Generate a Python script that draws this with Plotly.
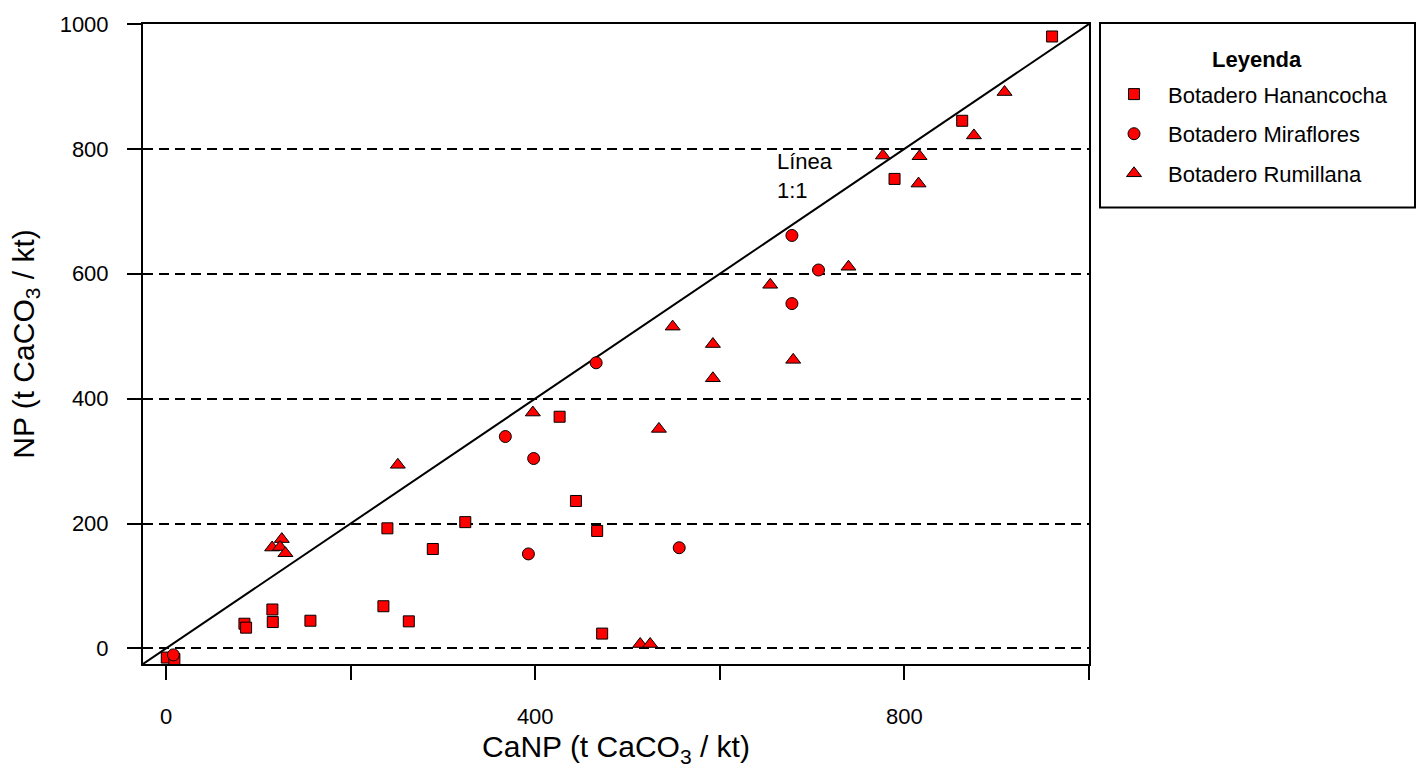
import plotly.graph_objects as go

# ---- data ----
han_x = [960, 862.6, 789.3, 426.4, 444.1, 467.1, 472.5, 239.8, 324.2, 289.0,
         115.2, 115.6, 84.9, 86.7, 156.4, 235.5, 263.0, 0.8, 9.0]
han_y = [980, 845, 751.9, 371, 236.1, 188.1, 23.7, 192.3, 202.2, 159.2,
         62.3, 42.2, 39.5, 33.2, 44.3, 67.5, 43.3, -14.7, -17.0]

mir_x = [678.1, 706.9, 678.1, 466.0, 367.6, 398.3, 392.6, 556.0, 7.9]
mir_y = [661.3, 606.0, 552.2, 457.4, 339.3, 304.1, 151.3, 161.2, -10.4]

rum_x = [908.5, 875.3, 776.7, 816.4, 815.3, 739.4, 654.6, 548.9, 592.5, 679.5,
         592.5, 397.4, 534.0, 513.7, 524.5, 251.1, 125.4, 114.9, 123.5, 129.3]
rum_y = [891, 821.5, 789.3, 788.2, 744.4, 611.2, 582.3, 515.3, 487.4, 462.1,
         432.6, 377.7, 351.5, 7.0, 7.0, 294.0, 175.0, 161.5, 162.3, 152.4]

line_1to1 = [-25, 1000]

x_tickvals = [0, 200, 400, 600, 800, 1000]
x_ticktext = ["0", "", "400", "", "800", ""]
y_tickvals = [0, 200, 400, 600, 800, 1000]
y_ticktext = ["0", "200", "400", "600", "800", "1000"]

FONT = "Liberation Sans, Arial, sans-serif"
RED = "#FF0000"

fig = go.Figure()
fig.add_trace(go.Scatter(x=line_1to1, y=line_1to1, mode="lines",
                         line=dict(color="black", width=2),
                         showlegend=False, hoverinfo="skip"))

mk = dict(color=RED, line=dict(color="black", width=1))
fig.add_trace(go.Scatter(x=han_x, y=han_y, mode="markers", name="Botadero Hanancocha",
                         legendgroup="a",
                         marker=dict(symbol="square", size=11, **mk)))
fig.add_trace(go.Scatter(x=mir_x, y=mir_y, mode="markers", name="Botadero Miraflores",
                         legendgroup="b",
                         marker=dict(symbol="circle", size=12, **mk)))
fig.add_trace(go.Scatter(x=rum_x, y=rum_y, mode="markers", name="Botadero Rumillana",
                         legendgroup="c",
                         marker=dict(symbol="triangle-up", size=13, **mk)))

fig.add_annotation(x=660, y=757, xref="x", yref="y", text="Línea<br>1:1",
                   showarrow=False, xanchor="left", yanchor="middle", align="left",
                   font=dict(family=FONT, size=22, color="black"))

# legend frame and title
L, R, T, B = 143, 1089, 19, 668
W, H = R - L, B - T
fig.add_shape(type="rect", xref="paper", yref="paper",
              x0=(1100 - L) / W, x1=(1415 - L) / W,
              y0=(B - 205) / H, y1=(B - 18) / H,
              line=dict(color="black", width=2), fillcolor="rgba(0,0,0,0)")
fig.add_annotation(x=(1257 - L) / W, y=(B - 55) / H, xref="paper", yref="paper",
                   text="<b>Leyenda</b>", showarrow=False,
                   xanchor="center", yanchor="middle",
                   font=dict(family=FONT, size=22, color="black"))

fig.update_layout(
    width=1421, height=770,
    margin=dict(l=L, r=1421 - R, t=T, b=770 - B),
    paper_bgcolor="white", plot_bgcolor="white",
    font=dict(family=FONT, size=22, color="black"),
    showlegend=True,
    legend=dict(x=(1100 - L) / W, y=(B - 69) / H, xanchor="left", yanchor="top",
                bgcolor="rgba(0,0,0,0)", borderwidth=0,
                font=dict(family=FONT, size=22),
                itemwidth=58, traceorder="grouped", tracegroupgap=8),
)

fig.update_xaxes(range=[-25, 1000], showgrid=False, zeroline=False,
                 showline=True, linecolor="black", linewidth=2, mirror=True,
                 ticks="outside", ticklen=14, tickwidth=2, tickcolor="black",
                 tickvals=x_tickvals, ticktext=x_ticktext,
                 tickfont=dict(family=FONT, size=22), ticklabelstandoff=18,
                 title=dict(text="CaNP (t CaCO<sub>3</sub> / kt)",
                            font=dict(family=FONT, size=30), standoff=8))
fig.update_yaxes(range=[-25, 1000], showgrid=True, gridcolor="black", gridwidth=1.5,
                 griddash="10px,6px", zeroline=False,
                 showline=True, linecolor="black", linewidth=2, mirror=True,
                 ticks="outside", ticklen=14, tickwidth=2, tickcolor="black",
                 tickvals=y_tickvals, ticktext=y_ticktext,
                 tickfont=dict(family=FONT, size=22), ticklabelstandoff=14,
                 title=dict(text="NP (t CaCO<sub>3</sub> / kt)",
                            font=dict(family=FONT, size=30), standoff=16))

fig.write_html("out.html")
